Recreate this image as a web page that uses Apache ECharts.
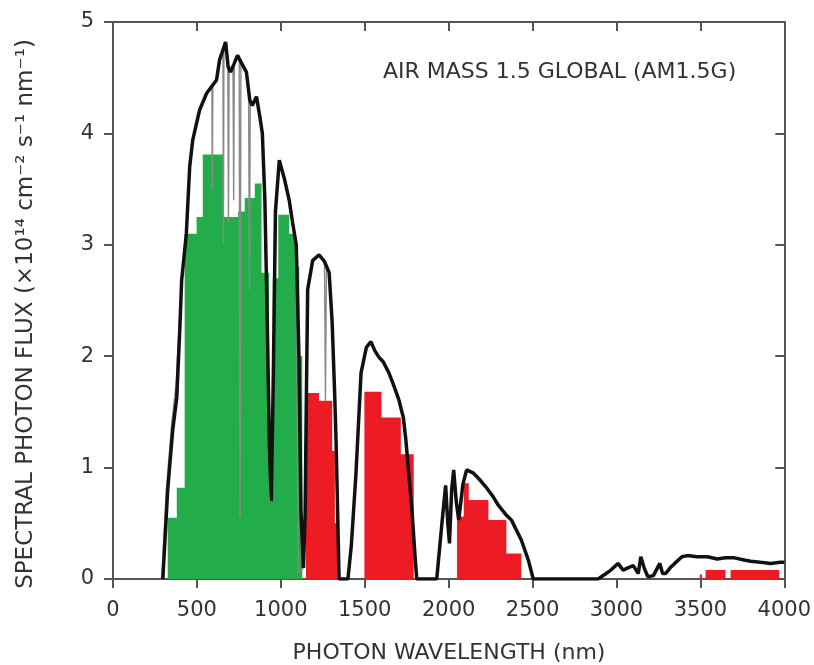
<!DOCTYPE html>
<html>
<head>
<meta charset="utf-8">
<script src="https://cdn.jsdelivr.net/npm/echarts@6/dist/echarts.min.js"></script>
<style>html,body{margin:0;padding:0;background:#fff;}#chart{width:814px;height:665px;}</style>
</head>
<body>
<div id="chart"></div>
<script>
// Outer (black) spectrum contour: wavelength (nm) and photon flux (x1e14 cm^-2 s^-1 nm^-1)
var envWl = [297,326,356,380,398,409,437,457,475,516,558,617,635,671,686,700,720,742,770,795,815,830,855,875,890,905,918,932,943,955,968,991,1020,1050,1070,1092,1108,1120,1135,1145,1152,1160,1190,1228,1260,1288,1306,1320,1329,1340,1347,1400,1420,1448,1478,1510,1537,1560,1585,1610,1644,1670,1703,1730,1745,1765,1780,1800,1810,1929,1960,1982,1995,2005,2018,2030,2045,2060,2085,2107,2148,2180,2220,2260,2297,2340,2374,2400,2433,2475,2504,2890,2930,2967,3009,3040,3068,3100,3130,3145,3165,3187,3220,3258,3275,3294,3320,3347,3390,3424,3480,3543,3600,3650,3703,3760,3800,3858,3920,3976,4000];
var envFlux = [0,0.8,1.34,1.63,2.24,2.68,3.1,3.7,3.94,4.21,4.36,4.48,4.66,4.82,4.6,4.55,4.62,4.70,4.62,4.55,4.3,4.25,4.33,4.15,4.0,3.4,2.4,1.2,0.7,1.8,3.3,3.76,3.6,3.4,3.2,3.0,2.0,0.6,0.1,0.6,1.6,2.6,2.86,2.91,2.85,2.75,2.3,1.7,1.25,0.5,0,0,0.3,0.95,1.85,2.08,2.13,2.05,1.99,1.95,1.85,1.75,1.61,1.45,1.25,0.9,0.65,0.2,0,0,0.5,0.84,0.5,0.32,0.8,0.98,0.7,0.53,0.85,0.98,0.95,0.9,0.83,0.75,0.66,0.58,0.53,0.45,0.35,0.17,0,0,0.04,0.08,0.14,0.08,0.1,0.12,0.05,0.2,0.1,0.02,0.03,0.14,0.05,0.05,0.1,0.14,0.2,0.21,0.2,0.2,0.18,0.19,0.19,0.17,0.16,0.15,0.14,0.15,0.15];

// Detailed (grey) spectrum with narrow absorption lines
var lineWl = [290,318,350,376,395,409,437,457,475,516,558,589,592,595,617,635,655,658,661,671,684,688,692,700,715,719,723,742,752,757,762,780,795,808,813,818,830,855,875,890,905,918,932,943,955,968,991,1020,1050,1070,1092,1098,1104,1135,1145,1152,1160,1190,1228,1260,1266,1272,1288,1306,1320,1329,1340,1350];
var lineFlux = [0,0.8,1.4,1.75,2.3,2.68,3.1,3.7,3.94,4.21,4.36,4.42,3.5,4.44,4.48,4.66,4.74,3.0,4.76,4.82,4.62,3.2,4.58,4.55,4.6,3.4,4.62,4.70,4.66,0.56,4.62,4.6,4.55,4.35,2.6,4.3,4.25,4.33,4.15,4.0,3.4,2.4,1.2,0.7,1.8,3.3,3.76,3.6,3.4,3.2,3.0,1.5,0.05,0.1,0.6,1.6,2.6,2.86,2.91,2.85,1.6,2.82,2.75,2.3,1.7,1.25,0.5,0];

// Green filled portion (step top, value holds until next wavelength)
var greenWl = [326,380,427,498,535,655,745,785,845,885,930,952,985,1050,1085,1110,1128];
var greenFlux = [0.55,0.82,3.1,3.25,3.81,3.25,3.3,3.42,3.55,2.75,0.7,2.7,3.27,3.1,2.8,2.0,0];

// Red filled portions (step top)
var redWl = [1150,1228,1306,1322,1335,1498,1600,1715,1792,2050,2090,2120,2237,2344,2433,3496,3510,3531,3650,3680,3970];
var redFlux = [1.67,1.6,1.15,0.5,0,1.68,1.45,1.12,0,0.56,0.86,0.71,0.53,0.23,0,0.04,0,0.08,0,0.08,0];

function pairs(a, b) { return a.map(function (v, i) { return [v, b[i]]; }); }

var chart = echarts.init(document.getElementById('chart'), null, {renderer: 'canvas'});
var axisCol = '#555';
var txtCol = '#333';
var FONT = 'DejaVu Sans';
function plain(v) { return String(v); }

chart.setOption({
  animation: false,
  backgroundColor: '#fff',
  grid: {left: 113, right: 27, top: 22, bottom: 86},
  xAxis: [{
    type: 'value', min: 0, max: 4000, interval: 500, position: 'bottom',
    axisLine: {show: true, onZero: false, lineStyle: {color: axisCol, width: 2}},
    axisTick: {show: true, inside: false, length: 9, lineStyle: {color: axisCol, width: 2}},
    axisLabel: {color: txtCol, fontFamily: FONT, fontSize: 21, margin: 21, formatter: plain},
    splitLine: {show: false}
  }, {
    type: 'value', min: 0, max: 4000, interval: 500, position: 'top',
    axisLine: {show: true, onZero: false, lineStyle: {color: axisCol, width: 2}},
    axisTick: {show: true, inside: true, length: 9, lineStyle: {color: axisCol, width: 2}},
    axisLabel: {show: false}, splitLine: {show: false}
  }],
  yAxis: [{
    type: 'value', min: 0, max: 5, interval: 1, position: 'left',
    axisLine: {show: true, onZero: false, lineStyle: {color: axisCol, width: 2}},
    axisTick: {show: true, inside: false, length: 9, lineStyle: {color: axisCol, width: 2}},
    axisLabel: {color: txtCol, fontFamily: FONT, fontSize: 21, margin: 19, formatter: plain},
    splitLine: {show: false}
  }, {
    type: 'value', min: 0, max: 5, interval: 1, position: 'right',
    axisLine: {show: true, onZero: false, lineStyle: {color: axisCol, width: 2}},
    axisTick: {show: true, inside: true, length: 9, lineStyle: {color: axisCol, width: 2}},
    axisLabel: {show: false}, splitLine: {show: false}
  }],
  series: [{
    name: 'green', type: 'line', step: 'end', xAxisIndex: 0, yAxisIndex: 0,
    data: pairs(greenWl, greenFlux), showSymbol: false, symbol: 'none',
    lineStyle: {width: 0}, areaStyle: {color: '#22ad4a', opacity: 1}, z: 2
  }, {
    name: 'red', type: 'line', step: 'end', xAxisIndex: 0, yAxisIndex: 0,
    data: pairs(redWl, redFlux), showSymbol: false, symbol: 'none',
    lineStyle: {width: 0}, areaStyle: {color: '#ed1c24', opacity: 1}, z: 2
  }, {
    name: 'lines', type: 'line', xAxisIndex: 0, yAxisIndex: 0,
    data: pairs(lineWl, lineFlux), showSymbol: false, symbol: 'none',
    lineStyle: {color: '#8a8a8a', width: 1.4}, z: 3
  }, {
    name: 'AM1.5G', type: 'line', xAxisIndex: 0, yAxisIndex: 0,
    data: pairs(envWl, envFlux), showSymbol: false, symbol: 'none',
    lineStyle: {color: '#111', width: 3.5}, z: 4
  }],
  graphic: [{
    type: 'text', left: 383, top: 61, z: 10,
    style: {text: 'AIR MASS 1.5 GLOBAL (AM1.5G)', fill: txtCol, font: '22px "DejaVu Sans"'}
  }, {
    type: 'text', x: 449, y: 653, z: 10,
    style: {text: 'PHOTON WAVELENGTH (nm)', fill: txtCol, font: '22px "DejaVu Sans"',
      align: 'center', verticalAlign: 'middle', textAlign: 'center', textVerticalAlign: 'middle'}
  }, {
    type: 'text', x: 26, y: 314, rotation: Math.PI / 2, z: 10,
    style: {text: 'SPECTRAL PHOTON FLUX (\u00d710\u00b9\u2074 cm\u207b\u00b2 s\u207b\u00b9 nm\u207b\u00b9)', fill: txtCol,
      font: '23px "DejaVu Sans"', align: 'center', verticalAlign: 'middle', textAlign: 'center', textVerticalAlign: 'middle'}
  }]
});
</script>
</body>
</html>
